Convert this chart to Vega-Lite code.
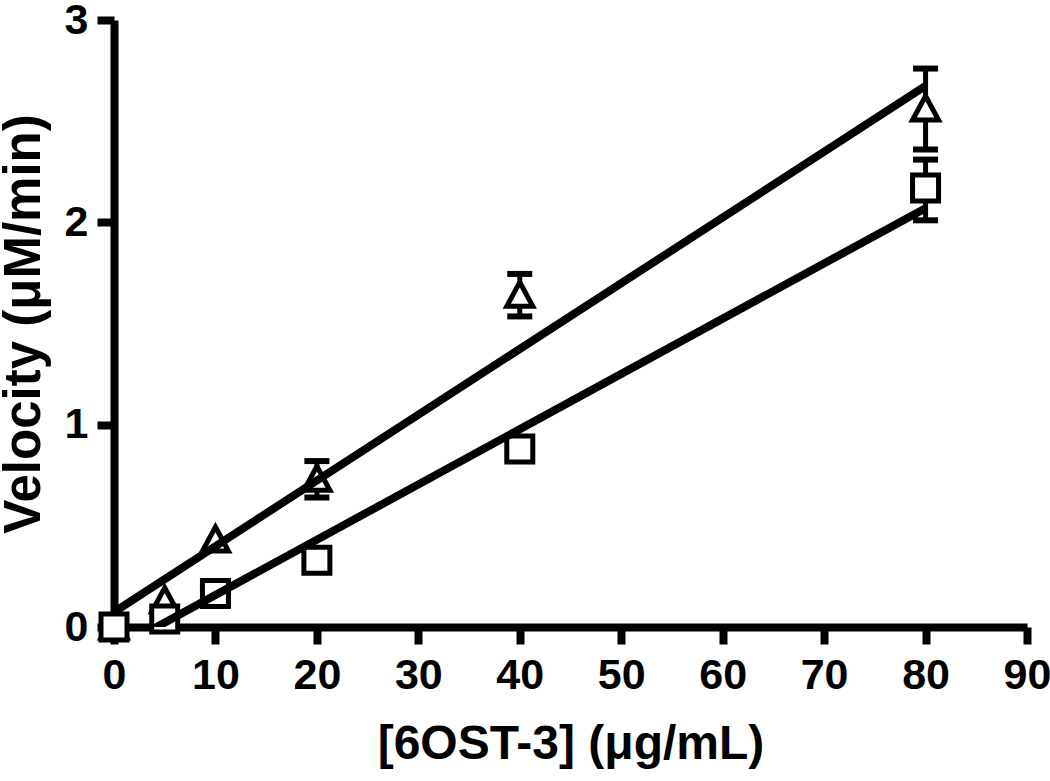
{
  "$schema": "https://vega.github.io/schema/vega-lite/v6.json",
  "width": 913,
  "height": 607,
  "autosize": {"type": "none"},
  "padding": {"left": 114, "top": 20, "right": 23, "bottom": 154},
  "background": "white",
  "config": {
    "view": {"stroke": null},
    "axis": {
      "grid": false,
      "domainColor": "black",
      "domainWidth": 8,
      "tickColor": "black",
      "tickWidth": 8,
      "tickSize": 17,
      "labelFlush": false,
      "labelFont": "Liberation Sans",
      "labelFontWeight": "bold",
      "labelFontSize": 43,
      "labelColor": "black",
      "titleFont": "Liberation Sans",
      "titleFontWeight": "bold",
      "titleColor": "black"
    }
  },
  "datasets": {
    "pts": [
      {"series": "tri", "conc": 0, "v": 0},
      {"series": "tri", "conc": 5, "v": 0.13},
      {"series": "tri", "conc": 10, "v": 0.43},
      {"series": "tri", "conc": 20, "v": 0.73, "lo": 0.64, "hi": 0.82},
      {"series": "tri", "conc": 40, "v": 1.64, "lo": 1.535, "hi": 1.745},
      {"series": "tri", "conc": 80, "v": 2.56, "lo": 2.36, "hi": 2.76},
      {"series": "sq", "conc": 0, "v": 0},
      {"series": "sq", "conc": 5, "v": 0.04},
      {"series": "sq", "conc": 10, "v": 0.165},
      {"series": "sq", "conc": 20, "v": 0.33},
      {"series": "sq", "conc": 40, "v": 0.88},
      {"series": "sq", "conc": 80, "v": 2.17, "lo": 2.01, "hi": 2.31}
    ],
    "fits": [
      {"series": "tri", "conc": 0, "v": 0.074},
      {"series": "tri", "conc": 80, "v": 2.674},
      {"series": "sq", "conc": 0, "v": -0.115},
      {"series": "sq", "conc": 80, "v": 2.07}
    ]
  },
  "layer": [
    {
      "data": {"name": "pts"},
      "transform": [{"filter": "isValid(datum.lo)"}],
      "mark": {"type": "rule", "color": "black", "strokeWidth": 5},
      "encoding": {
        "x": {"field": "conc", "type": "quantitative", "scale": {"domain": [0, 90], "nice": false},
              "axis": {"values": [0,10,20,30,40,50,60,70,80,90], "format": "d", "labelPadding": 10, "title": "[6OST-3] (μg/mL)", "titleFontSize": 48, "titlePadding": 23}},
        "y": {"field": "lo", "type": "quantitative", "scale": {"domain": [0, 3], "nice": false},
              "axis": {"values": [0,1,2,3], "format": "d", "labelPadding": 9, "title": "Velocity (μM/min)", "titleFontSize": 51, "titlePadding": 14}},
        "y2": {"field": "hi"}
      }
    },
    {
      "data": {"name": "pts"},
      "transform": [{"filter": "isValid(datum.lo)"}],
      "mark": {"type": "tick", "orient": "horizontal", "color": "black", "size": 25, "thickness": 6, "opacity": 1},
      "encoding": {
        "x": {"field": "conc", "type": "quantitative"},
        "y": {"field": "hi", "type": "quantitative"}
      }
    },
    {
      "data": {"name": "pts"},
      "transform": [{"filter": "isValid(datum.lo)"}],
      "mark": {"type": "tick", "orient": "horizontal", "color": "black", "size": 25, "thickness": 6, "opacity": 1},
      "encoding": {
        "x": {"field": "conc", "type": "quantitative"},
        "y": {"field": "lo", "type": "quantitative"}
      }
    },
    {
      "data": {"name": "pts"},
      "mark": {"type": "point", "filled": false, "fill": "white", "fillOpacity": 1, "stroke": "black", "strokeWidth": 5, "opacity": 1, "size": 676, "strokeJoin": "miter"},
      "encoding": {
        "x": {"field": "conc", "type": "quantitative"},
        "y": {"field": "v", "type": "quantitative"},
        "shape": {"field": "series", "type": "nominal",
                  "scale": {"domain": ["tri", "sq"], "range": ["M0,-1L1,0.85L-1,0.85Z", "square"]},
                  "legend": null}
      }
    },
    {
      "data": {"name": "fits"},
      "mark": {"type": "line", "color": "black", "strokeWidth": 8, "clip": true},
      "encoding": {
        "x": {"field": "conc", "type": "quantitative"},
        "y": {"field": "v", "type": "quantitative"},
        "detail": {"field": "series", "type": "nominal"}
      }
    }
  ]
}
